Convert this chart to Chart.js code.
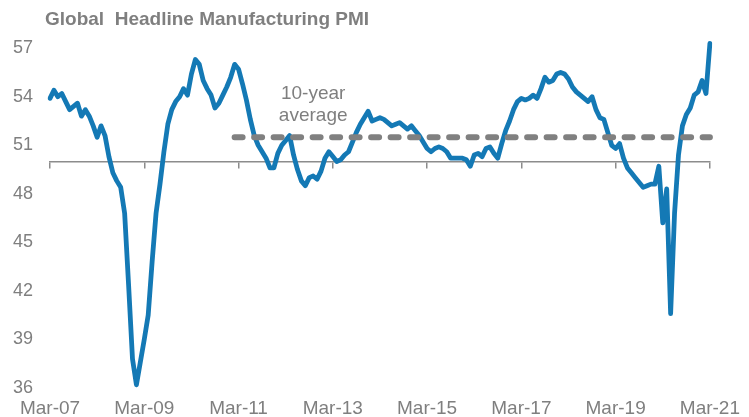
<!DOCTYPE html>
<html>
<head>
<meta charset="utf-8">
<script src="https://cdn.jsdelivr.net/npm/chart.js@4.4.1/dist/chart.umd.min.js"></script>
<style>
  html, body { margin: 0; padding: 0; background: #fff; }
</style>
</head>
<body>
<canvas id="pmiChart" width="749" height="417"></canvas>
<script>
// monthly labels Mar-07 .. Mar-21
const monthNames = ['Jan','Feb','Mar','Apr','May','Jun','Jul','Aug','Sep','Oct','Nov','Dec'];
const labels = [];
for (let m = 2, y = 2007; y < 2021 || (y === 2021 && m <= 2); m++) {
  if (m === 12) { m = 0; y++; }
  labels.push(monthNames[m] + '-' + String(y).slice(2));
}

const tickLabels = ['Mar-07', 'Mar-09', 'Mar-11', 'Mar-13', 'Mar-15', 'Mar-17', 'Mar-19', 'Mar-21'];
const yTicks = [36, 39, 42, 45, 48, 51, 54, 57];

// Global headline manufacturing PMI
const pmi = [
  53.9, 54.4, 54.0, 54.2, 53.7, 53.2, 53.4, 53.6, 52.8, 53.2, 52.8, 52.2,
  51.5, 52.2, 51.6, 50.3, 49.3, 48.8, 48.4, 46.8, 42.4, 37.8, 36.2, 37.6,
  39.0, 40.5, 43.8, 46.8, 48.6, 50.6, 52.3, 53.2, 53.7, 54.0, 54.5, 54.1,
  55.4, 56.3, 56.0, 55.0, 54.5, 54.1, 53.3, 53.6, 54.1, 54.6, 55.2, 56.0,
  55.7, 54.8, 53.8, 52.6, 51.6, 51.0, 50.6, 50.2, 49.6, 49.6, 50.5, 51.0,
  51.3, 51.6, 50.4, 49.5, 48.8, 48.5, 49.0, 49.1, 48.9, 49.4, 50.2, 50.6,
  50.3, 50.0, 50.1, 50.4, 50.6, 51.2, 51.8, 52.3, 52.7, 53.1, 52.5, 52.6,
  52.7, 52.6, 52.4, 52.2, 52.3, 52.4, 52.2, 52.0, 52.2, 51.9, 51.6, 51.2,
  50.8, 50.6, 50.8, 50.9, 50.8, 50.6, 50.2, 50.2, 50.2, 50.2, 50.1, 49.7,
  50.4, 50.5, 50.3, 50.8, 50.9, 50.5, 50.2, 51.1, 51.9, 52.5, 53.2, 53.7,
  53.9, 53.8, 53.9, 54.1, 53.9, 54.5, 55.2, 54.9, 55.0, 55.4, 55.5, 55.4,
  55.1, 54.6, 54.3, 54.1, 53.9, 53.7, 54.0, 53.2, 52.7, 52.6, 51.8, 51.0,
  50.8, 51.1, 50.2, 49.6, 49.3, 49.0, 48.7, 48.4, 48.5, 48.6, 48.6, 49.7,
  46.2, 48.3, 40.6, 46.8, 50.4, 52.2, 52.9, 53.3, 54.1, 54.3, 55.0, 54.2,
  57.3
];

const avgValue = 51.5;
const avgFrom = 'Feb-11';
const avgLine = labels.map((l, i) => i >= labels.indexOf(avgFrom) ? avgValue : null);

const chartTitle = 'Global  Headline Manufacturing PMI';
const noteLines = ['10-year', 'average'];

const textGrey = '#7f7f7f';
const fontFamily = '"Liberation Sans", Arial, sans-serif';
Chart.defaults.font.family = fontFamily;
Chart.defaults.color = textGrey;

const keepTicks = scale => {
  scale.ticks = scale.ticks.filter(t => tickLabels.includes(labels[t.value]));
};

// title sits a little left of the plot, and the "10-year average" note
const textPlugin = {
  id: 'textPlugin',
  afterDatasetsDraw(chart) {
    const { ctx, chartArea, scales: { x, y } } = chart;
    ctx.save();
    ctx.fillStyle = textGrey;
    ctx.textBaseline = 'middle';

    ctx.font = 'bold 19px ' + fontFamily;
    ctx.textAlign = 'left';
    ctx.fillText(chartTitle, chartArea.left - 5, 20);

    ctx.font = '19px ' + fontFamily;
    ctx.textAlign = 'center';
    const px = x.getPixelForValue(labels.indexOf('Oct-12'));
    ctx.fillText(noteLines[0], px, y.getPixelForValue(54.2));
    ctx.fillText(noteLines[1], px, y.getPixelForValue(52.85));
    ctx.restore();
  }
};

new Chart(document.getElementById('pmiChart'), {
  type: 'line',
  data: {
    labels: labels,
    datasets: [
      {
        label: '10-year average',
        data: avgLine,
        borderColor: '#808080',
        borderWidth: 6,
        borderDash: [8, 11.5],
        borderCapStyle: 'round',
        pointRadius: 0,
        order: 0
      },
      {
        label: 'Global Headline Manufacturing PMI',
        data: pmi,
        borderColor: '#1479b5',
        borderWidth: 4.8,
        borderJoinStyle: 'round',
        borderCapStyle: 'round',
        tension: 0,
        pointRadius: 0,
        order: 1
      }
    ]
  },
  options: {
    responsive: false,
    devicePixelRatio: 1,
    animation: false,
    layout: { padding: { left: 0, right: 37, top: 32, bottom: 0 } },
    plugins: {
      legend: { display: false },
      tooltip: { enabled: false },
      title: { display: false }
    },
    scales: {
      x: {
        type: 'category',
        position: 'bottom',
        grid: { display: false, drawTicks: false },
        border: { display: false },
        ticks: { autoSkip: false, maxRotation: 0, padding: 9, font: { size: 19 }, color: textGrey },
        afterBuildTicks: keepTicks,
        afterFit: scale => { scale.height = 29; }
      },
      x2: {
        type: 'category',
        position: { y: 50 },
        grid: { drawOnChartArea: false, drawTicks: true, tickLength: 6, color: '#8c8c8c', lineWidth: 1.5 },
        border: { display: true, color: '#8c8c8c', width: 1.5 },
        ticks: { display: false, autoSkip: false },
        afterBuildTicks: keepTicks
      },
      y: {
        type: 'linear',
        position: 'left',
        min: 36,
        max: 58,
        grid: { display: false, drawTicks: false },
        border: { display: false },
        ticks: {
          stepSize: 3,
          includeBounds: false,
          autoSkip: false,
          padding: 17,
          font: { size: 18 },
          color: textGrey,
          callback: value => yTicks.includes(value) ? String(value) : ''
        },
        afterFit: scale => { scale.width = 50; }
      }
    }
  },
  plugins: [textPlugin]
});
</script>
</body>
</html>
